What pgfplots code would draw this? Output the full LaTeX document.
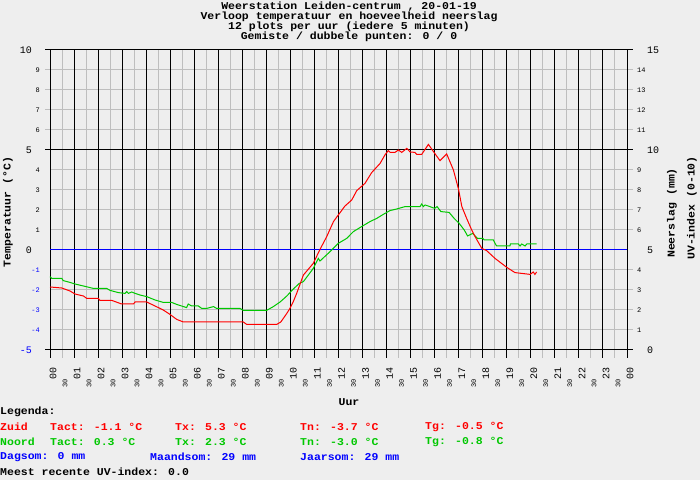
\documentclass[border=0pt]{standalone}
\usepackage{pgfplots}
\pgfplotsset{compat=1.18}
\usepackage{fontspec}
\setmainfont{Liberation Mono}
\newfontfamily\wide[FakeStretch=1.1]{Liberation Mono}
\definecolor{bg}{RGB}{238,238,238}
\definecolor{grn}{RGB}{0,200,0}
\definecolor{rd}{RGB}{255,0,0}
\definecolor{bl}{RGB}{0,0,255}
\definecolor{gg}{RGB}{190,190,190}
\newcommand{\tf}{\wide\fontsize{10.5}{10.5}\selectfont\bfseries}
\newcommand{\smt}{\fontsize{7}{7}\selectfont}
\newcommand{\bgt}{\fontsize{10}{10}\selectfont}
\newcommand{\hr}[1]{\bgt #1}
\newcommand{\hh}{\makebox[20bp][l]{\smt 30}}
\newcommand{\ml}[1]{\bgt #1\hspace{8bp}\null}
\newcommand{\sml}[1]{\smt #1}
\newcommand{\mr}[1]{\bgt\hspace{10bp}#1}
\begin{document}
\begin{tikzpicture}[x=1bp,y=1bp]
\useasboundingbox (0,0) rectangle (700,480);
\fill[bg] (0,0) rectangle (700,480);
\begin{axis}[at={(50bp,130bp)}, anchor=south west, scale only axis,
 width=577bp, height=300bp,
 xmin=0, xmax=24, ymin=-5, ymax=10, clip=false,
 axis line style={black, line width=1bp},
 tick align=outside, major tick length=6bp,
 tick style={draw=none},
 xtick={0,0.5,...,24},
 xticklabels={\hr{00},\hh,\hr{01},\hh,\hr{02},\hh,\hr{03},\hh,\hr{04},\hh,\hr{05},\hh,\hr{06},\hh,\hr{07},\hh,\hr{08},\hh,\hr{09},\hh,\hr{10},\hh,\hr{11},\hh,\hr{12},\hh,\hr{13},\hh,\hr{14},\hh,\hr{15},\hh,\hr{16},\hh,\hr{17},\hh,\hr{18},\hh,\hr{19},\hh,\hr{20},\hh,\hr{21},\hh,\hr{22},\hh,\hr{23},\hh,\hr{00}},
 xticklabel style={yshift=-11bp, xshift=3bp, rotate=90, anchor=east, inner sep=0pt},
 ytick={-5,...,10},
 yticklabels={{\ml{\color{bl}-5}},{\sml{\color{bl}-4}},{\sml{\color{bl}-3}},{\sml{\color{bl}-2}},{\sml{\color{bl}-1}},\ml{0},\sml{1},\sml{2},\sml{3},\sml{4},\ml{5},\sml{6},\sml{7},\sml{8},\sml{9},\ml{10}},
 yticklabel style={anchor=east, inner sep=0pt, xshift=-4bp},
]
% grid
\pgfplotsinvokeforeach{0.5,1.5,...,23.5}{\draw[gg, line width=1bp] ([yshift=-8bp]axis cs:#1,-5) -- (axis cs:#1,10);}
\pgfplotsinvokeforeach{6,7,8,9}{\draw[gg, line width=1bp] ([xshift=-5bp]axis cs:0,#1) -- ([xshift=6bp]axis cs:24,#1);}
\pgfplotsinvokeforeach{-4,-3,-2,-1,1,2,3,4}{\draw[gg, line width=1bp] (axis cs:0,#1) -- ([xshift=6bp]axis cs:24,#1);}
\pgfplotsinvokeforeach{0,1,...,24}{\draw[black, line width=1bp] ([yshift=-8bp]axis cs:#1,-5) -- (axis cs:#1,10);}
\pgfplotsinvokeforeach{-5,5,10}{\draw[black, line width=1bp] ([xshift=-5bp]axis cs:0,#1) -- ([xshift=6bp]axis cs:24,#1);}
\addplot[bl, line width=1bp] coordinates {(0,0) (24,0)};
\addplot[grn, line width=1bp] coordinates {(0,-1.33)(0.07,-1.42)(0.49,-1.42)(0.55,-1.53)(0.83,-1.62)(1.04,-1.7)(1.46,-1.82)(1.8,-1.92)(2.36,-1.92)(2.5,-2.02)(2.84,-2.13)(3.12,-2.17)(3.19,-2.08)(3.26,-2.17)(3.4,-2.1)(3.54,-2.17)(3.74,-2.25)(4.02,-2.33)(4.37,-2.5)(4.71,-2.62)(5.06,-2.62)(5.27,-2.72)(5.55,-2.83)(5.68,-2.88)(5.75,-2.7)(5.89,-2.8)(6.17,-2.8)(6.31,-2.92)(6.52,-2.92)(6.8,-2.83)(6.93,-2.92)(7.9,-2.92)(8.04,-3.02)(9.01,-3.02)(9.29,-2.83)(9.57,-2.6)(9.85,-2.3)(10.12,-1.95)(10.37,-1.67)(10.54,-1.58)(10.95,-0.92)(11.16,-0.42)(11.23,-0.55)(11.65,-0.08)(11.99,0.33)(12.34,0.58)(12.62,0.92)(12.96,1.17)(13.31,1.42)(13.59,1.58)(13.86,1.78)(14.14,1.97)(14.42,2.05)(14.77,2.17)(15.39,2.17)(15.46,2.3)(15.53,2.17)(15.6,2.25)(15.8,2.17)(16.0,2.08)(16.1,2.17)(16.26,1.92)(16.6,1.88)(16.81,1.58)(17.02,1.33)(17.23,1.0)(17.37,0.7)(17.58,0.83)(17.78,0.58)(18.0,0.58)(18.06,0.5)(18.44,0.5)(18.51,0.33)(18.58,0.2)(19.13,0.2)(19.15,0.3)(19.48,0.3)(19.55,0.2)(19.62,0.3)(19.76,0.2)(19.83,0.3)(20.24,0.3)};
\addplot[rd, line width=1bp] coordinates {(0,-1.85)(0.49,-1.9)(0.83,-2.05)(1.04,-2.2)(1.39,-2.3)(1.53,-2.42)(2.01,-2.42)(2.08,-2.52)(2.57,-2.52)(2.98,-2.7)(3.47,-2.7)(3.54,-2.6)(4.02,-2.6)(4.37,-2.8)(4.71,-3.0)(4.99,-3.22)(5.27,-3.47)(5.55,-3.6)(8.04,-3.6)(8.18,-3.72)(9.43,-3.72)(9.6,-3.6)(9.85,-3.17)(9.98,-2.92)(10.12,-2.58)(10.26,-2.17)(10.54,-1.25)(10.95,-0.67)(11.23,0.03)(11.51,0.67)(11.79,1.42)(11.99,1.75)(12.27,2.2)(12.55,2.5)(12.76,2.97)(13.1,3.33)(13.38,3.87)(13.73,4.33)(13.93,4.75)(14.07,4.97)(14.15,4.88)(14.35,4.88)(14.49,5.0)(14.63,4.88)(14.84,5.08)(14.98,4.9)(15.18,4.88)(15.25,4.78)(15.46,4.78)(15.74,5.28)(16.02,4.8)(16.22,4.47)(16.5,4.8)(16.78,4.0)(16.99,3.05)(17.13,2.17)(17.33,1.58)(17.54,1.0)(17.68,0.67)(17.96,0.08)(18.16,-0.03)(18.51,-0.42)(19.0,-0.87)(19.34,-1.13)(19.97,-1.22)(20.1,-1.1)(20.17,-1.22)(20.24,-1.1)};
\end{axis}
\begin{axis}[at={(50bp,130bp)}, anchor=south west, scale only axis,
 width=577bp, height=300bp,
 xmin=0, xmax=24, ymin=0, ymax=15,
 axis x line=none, axis y line*=right,
 axis line style={black, line width=1bp},
 tick align=outside, major tick length=6bp,
 tick style={draw=none},
 ytick={0,...,15},
 yticklabels={\mr{0},\sml{1},\sml{2},\sml{3},\sml{4},\mr{5},\sml{6},\sml{7},\sml{8},\sml{9},\mr{10},\sml{11},\sml{12},\sml{13},\sml{14},\mr{15}},
 yticklabel style={anchor=west, inner sep=0pt, xshift=4bp},
]
\end{axis}
\node[font=\tf, inner sep=0pt] at (349,473) {Weerstation Leiden-centrum , 20-01-19};
\node[font=\tf, inner sep=0pt] at (349,463) {Verloop temperatuur en hoeveelheid neerslag};
\node[font=\tf, inner sep=0pt] at (349,453) {12 plots per uur (iedere 5 minuten)};
\node[font=\tf, inner sep=0pt] at (349,443) {Gemiste / dubbele punten: 0 / 0};
\node[font=\tf, rotate=90, inner sep=0pt] at (8,268) {Temperatuur (°C)};
\node[font=\tf, rotate=90, inner sep=0pt] at (672,267) {Neerslag (mm)};
\node[font=\tf, rotate=90, inner sep=0pt] at (692,272) {UV-index (0-10)};
\node[font=\tf, inner sep=0pt] at (349,78) {Uur};
\begin{scope}[every node/.style={font=\tf, anchor=west, inner sep=0pt}]
\node at (0,68) {Legenda:};
\node[text=rd] at (0,53) {Zuid};
\node[text=rd] at (50,53) {Tact: -1.1 °C};
\node[text=rd] at (175,53) {Tx: 5.3 °C};
\node[text=rd] at (300,53) {Tn: -3.7 °C};
\node[text=rd] at (425,53) {Tg: -0.5 °C};
\node[text=grn] at (0,38) {Noord};
\node[text=grn] at (50,38) {Tact: 0.3 °C};
\node[text=grn] at (175,38) {Tx: 2.3 °C};
\node[text=grn] at (300,38) {Tn: -3.0 °C};
\node[text=grn] at (425,38) {Tg: -0.8 °C};
\node[text=bl] at (0,23) {Dagsom: 0 mm};
\node[text=bl] at (150,23) {Maandsom: 29 mm};
\node[text=bl] at (300,23) {Jaarsom: 29 mm};
\node at (0,8) {Meest recente UV-index: 0.0};
\end{scope}
\end{tikzpicture}
\end{document}
